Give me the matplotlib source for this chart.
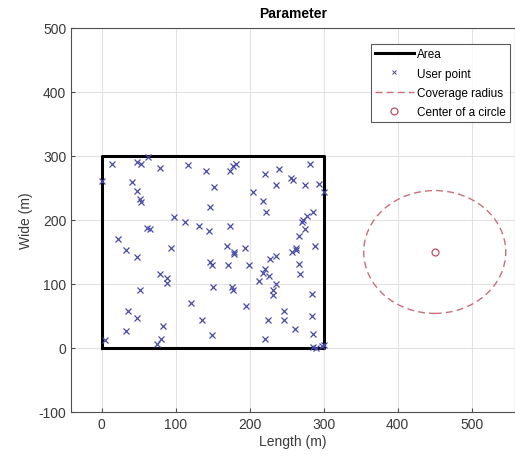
import matplotlib.pyplot as plt
import numpy as np
from matplotlib.patches import Circle
from matplotlib.lines import Line2D

plt.rcParams['font.family'] = ['Liberation Sans', 'DejaVu Sans']
plt.rcParams['axes.unicode_minus'] = False

# area rectangle corners (m)
area_x = [0, 300, 300, 0, 0]
area_y = [0, 0, 300, 300, 0]

# user points (m)
user_x = [14, 47, 53, 63, 79, 117, 141, 0, 41, 47, 52, 53, 146, 97, 112, 131, 145, 61, 65, 22,
          33, 94, 281, 178, 181, 173, 221, 240, 256, 258, 236, 275, 293, 300, 152, 205, 218, 222, 286, 277,
          272, 270, 173, 275, 266, 288, 169, 179, 193, 263, 257, 47, 146, 149, 79, 88, 88, 51, 121, 135,
          35, 47, 33, 83, 80, 74, 4, 149, 151, 179, 171, 199, 227, 236, 221, 218, 213, 226, 262, 267,
          268, 195, 284, 225, 246, 246, 261, 284, 176, 177, 236, 232, 231, 221, 285, 290, 298, 286, 300]
user_y = [287, 291, 287, 299, 281, 286, 277, 261, 260, 246, 233, 228, 220, 204, 197, 190, 182, 187, 186, 171,
          153, 156, 287, 284, 287, 277, 272, 279, 265, 263, 255, 255, 256, 243, 251, 243, 230, 213, 213, 207,
          200, 197, 191, 186, 175, 160, 160, 150, 156, 156, 150, 142, 134, 129, 116, 110, 101, 91, 70, 44,
          57, 47, 27, 35, 14, 6, 13, 20, 95, 147, 130, 130, 139, 144, 123, 117, 105, 113, 153, 131,
          116, 65, 84, 44, 58, 44, 30, 50, 95, 91, 100, 90, 82, 14, 2, 0, 3, 22, 5]

# coverage circle
center_x = 450
center_y = 150
radius = 96

xticks = [0, 100, 200, 300, 400, 500]
yticks = [-100, 0, 100, 200, 300, 400, 500]

fig = plt.figure(figsize=(5.15, 4.64), dpi=100)
ax = fig.add_axes([0.138, 0.11, 0.862, 0.8275])

txt = '#3a3a3a'
ax.plot(area_x, area_y, color='black', lw=2.2, label='Area')
ax.plot(user_x, user_y, 'x', color='#4a4aa8', ms=5, mew=0.9, label='User point')
circ = Circle((center_x, center_y), radius, fill=False, ls=(0, (5, 3)), lw=1.0, ec='#c8707a')
ax.add_patch(circ)
ax.plot([center_x], [center_y], 'o', mfc='none', mec='#c05060', ms=5, mew=0.9)

ax.set_xlim(-41.5, 558.5)
ax.set_ylim(-100, 500)
ax.set_xticks(xticks)
ax.set_yticks(yticks)
ax.grid(True, color='#e3e3e3', lw=0.8)
ax.set_axisbelow(True)
for s in ax.spines.values():
    s.set_color('#505050')
    s.set_linewidth(0.8)
ax.tick_params(direction='in', length=3, colors='#505050', labelcolor=txt, labelsize=10)
ax.set_xlabel('Length (m)', fontsize=10, color=txt, labelpad=2)
ax.set_ylabel('Wide (m)', fontsize=10, color=txt, labelpad=4)
ax.set_title('Parameter', fontsize=10, fontweight='bold', pad=8)

handles = [
    Line2D([], [], color='black', lw=2.2),
    Line2D([], [], ls='none', marker='x', color='#4a4aa8', ms=3.5, mew=0.7),
    Line2D([], [], color='#c8707a', ls=(0, (5, 3)), lw=1.0),
    Line2D([], [], ls='none', marker='o', mfc='none', mec='#c05060', ms=5, mew=0.9),
]
labels = ['Area', 'User point', 'Coverage radius', 'Center of a circle']
leg = ax.legend(handles, labels, loc='upper right', bbox_to_anchor=(0.989, 0.958),
                fontsize=8.5, frameon=True, fancybox=False, edgecolor='#303030',
                handlelength=3.3, handletextpad=0.3, labelspacing=0.62, borderpad=0.35,
                borderaxespad=0)
leg.get_frame().set_linewidth(0.8)

fig.savefig('out.png', dpi=100)
